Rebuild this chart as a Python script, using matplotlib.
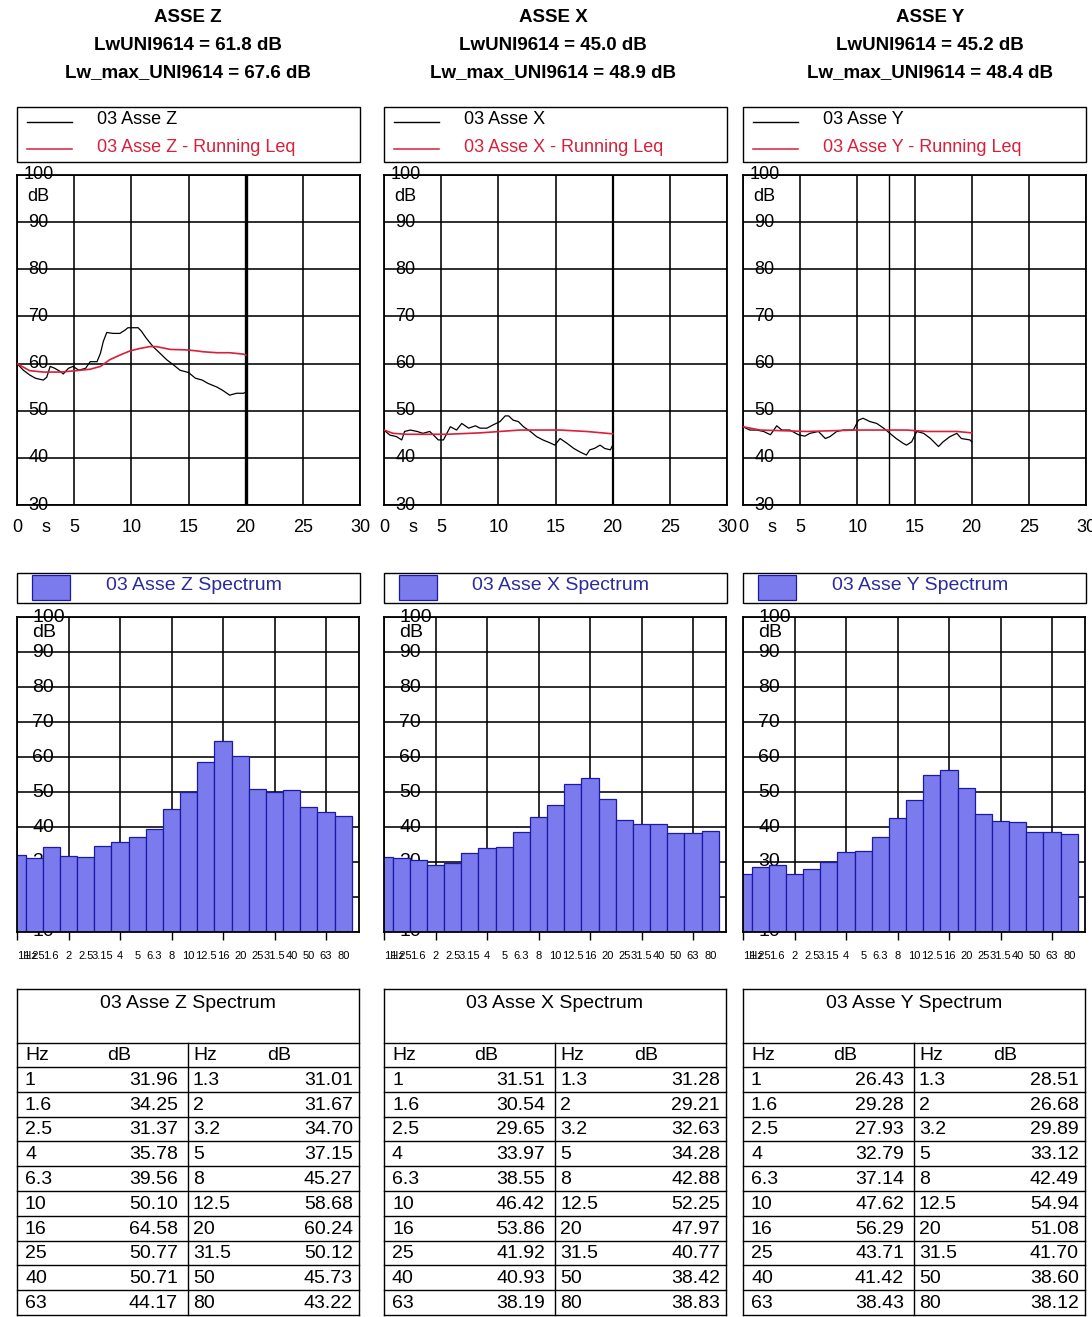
import numpy as np
import matplotlib
matplotlib.use("Agg")
import matplotlib.pyplot as plt
from matplotlib.patches import Rectangle
from matplotlib.transforms import blended_transform_factory

plt.rcParams['font.family'] = ['Liberation Sans', 'DejaVu Sans']

# ---------------------------------------------------------------- data
axis_names = ['Z', 'X', 'Y']
lw_uni = [61.8, 45.0, 45.2]
lw_max = [67.6, 48.9, 48.4]

band_labels = ['1Hz', '1.25', '1.6', '2', '2.5', '3.15', '4', '5', '6.3', '8',
               '10', '12.5', '16', '20', '25', '31.5', '40', '50', '63', '80']
table_hz_left = ['1', '1.6', '2.5', '4', '6.3', '10', '16', '25', '40', '63']
table_hz_right = ['1.3', '2', '3.2', '5', '8', '12.5', '20', '31.5', '50', '80']

spectrum_z = [31.96, 31.01, 34.25, 31.67, 31.37, 34.70, 35.78, 37.15, 39.56, 45.27,
              50.10, 58.68, 64.58, 60.24, 50.77, 50.12, 50.71, 45.73, 44.17, 43.22]
spectrum_x = [31.51, 31.28, 30.54, 29.21, 29.65, 32.63, 33.97, 34.28, 38.55, 42.88,
              46.42, 52.25, 53.86, 47.97, 41.92, 40.77, 40.93, 38.42, 38.19, 38.83]
spectrum_y = [26.43, 28.51, 29.28, 26.68, 27.93, 29.89, 32.79, 33.12, 37.14, 42.49,
              47.62, 54.94, 56.29, 51.08, 43.71, 41.70, 41.42, 38.60, 38.43, 38.12]

# time histories (s, dB)
time_z = [0, 0.55, 1.1, 1.6, 2.3, 2.6, 2.9, 3.3, 3.8, 4.05, 4.5, 4.9, 5.4, 6.0, 6.4,
          7.0, 7.3, 7.55, 7.85, 8.4, 9.0, 9.45, 9.7, 10.6, 10.9, 11.3, 11.9, 12.5,
          13.1, 13.7, 14.25, 15.0, 15.6, 16.2, 16.7, 17.5, 18.0, 18.6, 19.2, 19.8, 20.0]
level_z = [60.0, 58.6, 57.6, 56.9, 56.5, 57.1, 59.4, 59.0, 58.3, 57.8, 59.0, 59.4,
           58.6, 59.0, 60.4, 60.4, 62.2, 64.7, 66.6, 66.4, 66.4, 67.1, 67.6, 67.6,
           66.8, 65.4, 63.6, 62.2, 60.8, 59.7, 58.6, 58.1, 56.9, 56.5, 55.8, 55.0,
           54.3, 53.3, 53.7, 53.7, 53.9]
leq_time_z = [0, 1.1, 2.3, 3.8, 5.2, 6.4, 7.3, 8.1, 9.0, 9.9, 10.75, 11.6, 12.2,
              13.4, 14.8, 15.7, 16.3, 17.5, 18.6, 19.8, 20.0]
leq_z = [60.0, 58.5, 58.2, 58.2, 58.5, 58.8, 59.4, 60.8, 61.8, 62.7, 63.2, 63.6,
         63.6, 63.0, 62.9, 62.7, 62.5, 62.3, 62.3, 62.0, 61.8]

time_x = [0, 0.5, 1.1, 1.55, 1.8, 2.3, 2.9, 3.4, 4.0, 4.3, 4.75, 5.2, 5.8, 6.35,
          6.8, 7.4, 8.0, 8.4, 9.0, 9.55, 10.15, 10.6, 10.9, 11.3, 11.75, 12.2, 12.8,
          13.35, 13.9, 14.5, 14.95, 15.4, 16.0, 16.6, 17.1, 17.7, 18.0, 18.4, 18.9,
          19.3, 19.8, 20.0]
level_x = [45.9, 44.85, 44.5, 43.8, 45.6, 45.9, 45.6, 45.2, 45.6, 44.9, 43.8, 43.8,
           46.6, 45.9, 47.3, 46.3, 46.8, 46.3, 46.3, 47.0, 47.7, 48.9, 48.9, 48.0,
           47.7, 46.6, 45.6, 44.5, 43.8, 43.2, 42.7, 44.1, 43.1, 42.0, 41.3, 40.6,
           41.7, 42.0, 42.7, 42.0, 41.7, 42.7]
leq_time_x = [0, 0.8, 2.0, 5.5, 8.4, 10.15, 11.9, 15.4, 17.7, 20.0]
leq_x = [45.9, 45.2, 45.0, 45.0, 45.3, 45.6, 45.9, 45.9, 45.6, 45.1]

time_y = [0, 0.6, 1.2, 1.8, 2.4, 2.95, 3.4, 4.1, 4.85, 5.4, 5.85, 6.6, 7.2, 7.6,
          8.2, 8.8, 9.65, 10.1, 10.5, 11.1, 11.7, 12.3, 12.85, 13.4, 14.0, 14.3,
          14.75, 15.2, 15.8, 16.4, 17.1, 17.5, 18.1, 18.7, 19.1, 19.85, 20.0]
level_y = [46.6, 45.9, 45.9, 45.6, 44.9, 46.8, 45.9, 45.9, 44.9, 44.6, 45.2, 45.6,
           44.1, 44.5, 45.6, 45.9, 45.9, 48.0, 48.4, 47.7, 47.3, 46.3, 45.2, 44.1,
           43.1, 42.7, 43.4, 45.6, 45.2, 44.1, 42.4, 43.4, 44.5, 45.2, 44.1, 43.8, 43.4]
leq_time_y = [0, 1.5, 5.6, 9.9, 14.3, 16.1, 18.7, 20.0]
leq_y = [46.6, 45.9, 45.6, 45.9, 45.9, 45.6, 45.6, 45.3]

cursor_pos = [20.0, 20.0, 12.8]
cursor_width = [2.4, 1.6, 1.0]

series = {
    'Z': (time_z, level_z, leq_time_z, leq_z, spectrum_z),
    'X': (time_x, level_x, leq_time_x, leq_x, spectrum_x),
    'Y': (time_y, level_y, leq_time_y, leq_y, spectrum_y),
}

# ---------------------------------------------------------------- layout (pixels)
W, H = 1092, 1317
col_left = [17, 384, 743]
panel_w = 343
title_cx = [188, 553, 930]

BAR_FACE = '#7b7bee'
BAR_EDGE = '#1a1aa6'
RED = '#d91f3a'
LEG_BLUE = '#2b2b9e'


def frac(left, top, width, height):
    return [left / W, 1 - (top + height) / H, width / W, height / H]


fig = plt.figure(figsize=(W / 100, H / 100), dpi=100)

# overlay in pixel coordinates for titles, legend boxes and tables
ov = fig.add_axes([0, 0, 1, 1])
ov.set_xlim(0, W)
ov.set_ylim(H, 0)
ov.axis('off')

for i, name in enumerate(axis_names):
    L = col_left[i]
    t, lv, lt, lq, spec = series[name]

    # headings
    cx = title_cx[i]
    ov.text(cx, 17, f'ASSE {name}', ha='center', va='center', fontsize=13.5, fontweight='bold')
    ov.text(cx, 45, f'LwUNI9614 = {lw_uni[i]:.1f} dB', ha='center', va='center',
            fontsize=13.5, fontweight='bold')
    ov.text(cx, 73, f'Lw_max_UNI9614 = {lw_max[i]:.1f} dB', ha='center', va='center',
            fontsize=13.5, fontweight='bold')

    # time-history legend box
    ov.add_patch(Rectangle((L, 107), panel_w, 55, fill=False, ec='black', lw=1.0))
    ov.plot([L + 10, L + 55], [122, 122], color='black', lw=1.0)
    ov.plot([L + 10, L + 55], [149, 149], color=RED, lw=1.1)
    ov.text(L + 80, 119, f'03 Asse {name}', va='center', fontsize=13)
    ov.text(L + 80, 147, f'03 Asse {name} - Running Leq', va='center', fontsize=13, color=RED)

    # time-history plot
    ax = fig.add_axes(frac(L, 175, panel_w, 330))
    ax.set_xlim(0, 30)
    ax.set_ylim(30, 100)
    ax.set_xticks(np.arange(0, 31, 5), [str(v) for v in range(0, 31, 5)])
    ax.set_xticks([2.5], ['s'], minor=True)
    ax.set_yticks(np.arange(30, 101, 10))
    ax.tick_params(axis='x', which='both', length=0, pad=10, labelsize=13)
    ax.tick_params(axis='y', length=0, labelleft=False)
    ax.grid(True, which='major', color='black', lw=1.15)
    ax.set_axisbelow(True)
    for sp in ax.spines.values():
        sp.set_linewidth(1.3)
    ax.axvline(cursor_pos[i], color='black', lw=cursor_width[i], zorder=1)
    ax.plot(t, lv, color='black', lw=0.9, zorder=3)
    ax.plot(lt, lq, color=RED, lw=1.2, zorder=4)
    ytr = blended_transform_factory(ax.transAxes, ax.transData)
    for v in range(30, 101, 10):
        ax.text(0.062, v, str(v), transform=ytr, ha='center', va='center', fontsize=13)
    ax.text(0.062, 95.5, 'dB', transform=ytr, ha='center', va='center', fontsize=13)

    # spectrum legend box
    ov.add_patch(Rectangle((L, 573), panel_w, 30, fill=False, ec='black', lw=1.0))
    ov.add_patch(Rectangle((L + 15, 575), 38, 25, fc=BAR_FACE, ec=BAR_EDGE, lw=0.9))
    ov.text(L + 177, 586, f'03 Asse {name} Spectrum', ha='center', va='center',
            fontsize=14, color=LEG_BLUE)

    # spectrum bars
    sx = fig.add_axes(frac(L, 617, 342, 315))
    idx = np.arange(len(band_labels))
    sx.set_xlim(0, 19.92)
    sx.set_ylim(10, 100)
    sx.bar(idx, spec, width=1.0, color=BAR_FACE, edgecolor=BAR_EDGE, lw=0.9, zorder=2)
    sx.set_xticks(idx, band_labels)
    sx.set_xticks(idx[::3], minor=True)
    sx.xaxis.remove_overlapping_locs = False
    sx.tick_params(axis='x', which='major', length=0, pad=14, labelsize=8)
    sx.tick_params(axis='x', which='minor', length=6, width=1.0, direction='out')
    sx.get_xticklabels()[0].set_horizontalalignment('left')
    sx.set_yticks(np.arange(10, 101, 10))
    sx.tick_params(axis='y', length=0, labelleft=False)
    sx.grid(True, axis='y', which='major', color='black', lw=1.15)
    sx.grid(True, axis='x', which='minor', color='black', lw=1.15)
    sx.set_axisbelow(True)
    for sp in sx.spines.values():
        sp.set_linewidth(1.3)
        sp.set_zorder(5)
    str_ = blended_transform_factory(sx.transAxes, sx.transData)
    for v in range(10, 101, 10):
        sx.text(0.044, v, str(v), transform=str_, ha='left', va='center', fontsize=14, zorder=1.5)
    sx.text(0.044, 95.7, 'dB', transform=str_, ha='left', va='center', fontsize=14, zorder=1.5)

    # spectrum table
    top, title_bot, head_bot, row_h = 989, 1043, 1067, 24.8
    n_rows = len(table_hz_left)
    bottom = head_bot + row_h * n_rows
    tw = 342
    div = L + 171
    lk = dict(color='black', lw=1.0)
    ov.plot([L, L + tw], [top, top], **lk)
    ov.plot([L, L], [top, bottom], **lk)
    ov.plot([L + tw, L + tw], [top, bottom], **lk)
    ov.plot([div, div], [title_bot, bottom], **lk)
    ov.plot([L, L + tw], [title_bot, title_bot], **lk)
    ov.plot([L, L + tw], [head_bot, head_bot], **lk)
    ov.text(L + 171, 1003, f'03 Asse {name} Spectrum', ha='center', va='center', fontsize=14)
    hy = (title_bot + head_bot) / 2 + 1
    ov.text(L + 8, hy, 'Hz', va='center', fontsize=14)
    ov.text(L + 102, hy, 'dB', ha='center', va='center', fontsize=14)
    ov.text(div + 5, hy, 'Hz', va='center', fontsize=14)
    ov.text(L + 262, hy, 'dB', ha='center', va='center', fontsize=14)
    left_vals = spec[0::2]
    right_vals = spec[1::2]
    for r in range(n_rows):
        y0 = head_bot + row_h * r
        y1 = y0 + row_h
        ov.plot([L, L + tw], [y1, y1], **lk)
        yc = (y0 + y1) / 2 + 1
        ov.text(L + 8, yc, table_hz_left[r], va='center', fontsize=14)
        ov.text(L + 161, yc, f'{left_vals[r]:.2f}', ha='right', va='center', fontsize=14)
        ov.text(div + 5, yc, table_hz_right[r], va='center', fontsize=14)
        ov.text(L + 336, yc, f'{right_vals[r]:.2f}', ha='right', va='center', fontsize=14)

fig.savefig('out.png', dpi=100)
